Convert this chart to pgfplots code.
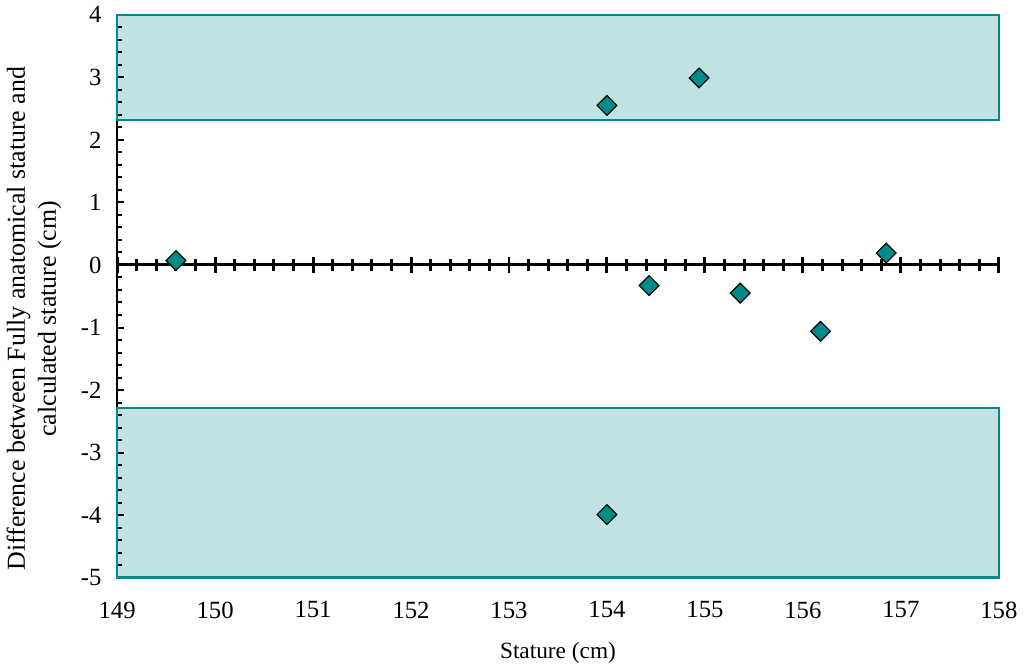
\documentclass[border=0pt]{standalone}
\usepackage{fontspec}
\setmainfont{Liberation Serif}
\usepackage{pgfplots}
\pgfplotsset{compat=1.18}
\definecolor{rectfill}{HTML}{C0E2E2}
\definecolor{myteal}{HTML}{008B8B}
\begin{document}
\begin{tikzpicture}
\begin{axis}[
 scale only axis, width=442.5pt, height=282.5pt,
 xmin=149, xmax=158, ymin=-5, ymax=4, enlargelimits=false,
 axis y line=left, axis x line=bottom,
 x axis line style={draw=none}, y axis line style={-, line width=0.75pt},
 xtick={149,150,...,158}, xtick style={draw=none},
 ytick={-5,-4,...,4}, minor y tick num=4,
 tick align=inside,
 major tick length=3.5pt, minor tick length=2.2pt,
 ytick style={line width=1pt, black},
 tick label style={font=\fontsize{12.4}{14}\selectfont},
 /pgf/number format/assume math mode=true,
 xticklabel style={yshift=-8.5pt},
 yticklabel style={xshift=-4.3pt},
 xlabel style={font=\fontsize{11.7}{14}\selectfont, yshift=-5pt},
 ylabel style={font=\fontsize{13}{15.5}\selectfont, align=center, at={(ticklabel cs:0.46,3pt)}},
 xlabel={Stature (cm)},
 ylabel={Difference between Fully anatomical stature and\\calculated stature (cm)},
 axis on top,
]
\addplot[fill=rectfill, draw=none] coordinates {(149,2.32) (158,2.32) (158,4) (149,4)} --cycle;
\addplot[fill=rectfill, draw=none] coordinates {(149,-5) (158,-5) (158,-2.29) (149,-2.29)} --cycle;
\end{axis}
\begin{axis}[
 scale only axis, width=442.5pt, height=282.5pt,
 xmin=149, xmax=158, ymin=-5, ymax=4, enlargelimits=false,
 axis x line=middle, axis y line=none,
 x axis line style={-, line width=1.5pt},
 xtick={149,150,...,158}, xticklabels={}, minor x tick num=4,
 hide obscured x ticks=false,
 tick align=center, major tick length=8pt, minor tick length=6pt,
 xtick style={line width=1.5pt, black},
 ytick=\empty,
 clip=false,
]
\addplot[draw=myteal, line width=1.2pt] coordinates {(149,2.32) (158,2.32) (158,4) (149,4)} --cycle;
\addplot[draw=myteal, line width=1.2pt] coordinates {(149,-5) (158,-5) (158,-2.29) (149,-2.29)} --cycle;
\addplot[only marks, mark=square*, mark size=3.5pt, mark options={rotate=45, fill=myteal, draw=black, line width=0.6pt}] coordinates {
(149.60, 0.07)
(154.00, 2.55)
(154.94, 2.99)
(154.43, -0.33)
(155.36, -0.45)
(156.18, -1.06)
(156.85, 0.19)
(154.00, -3.99)
};
\end{axis}
\end{tikzpicture}
\end{document}
